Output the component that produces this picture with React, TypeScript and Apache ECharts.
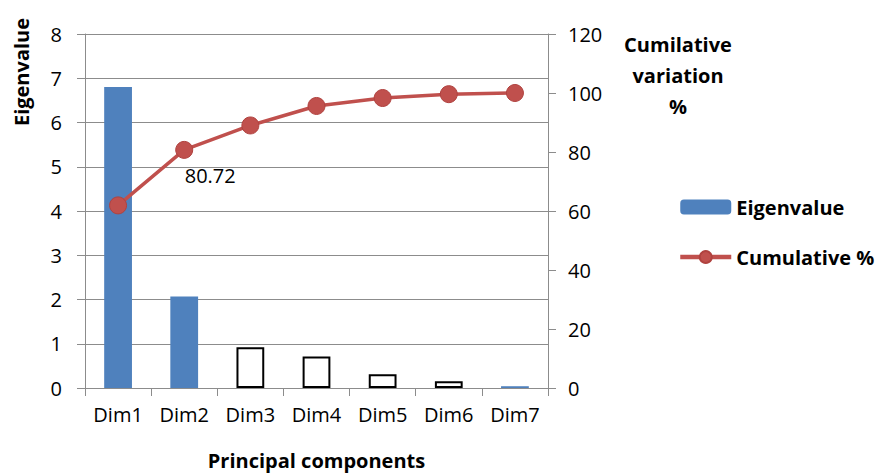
import React, { useEffect, useRef } from "react";
import * as echarts from "echarts";

const categories = ["Dim1", "Dim2", "Dim3", "Dim4", "Dim5", "Dim6", "Dim7"];
const eigenvalues = [6.8, 2.07, 0.92, 0.71, 0.31, 0.15, 0.04];
const filledBars = [true, true, false, false, false, false, true];
const cumulative = [61.9, 80.72, 89.0, 95.6, 98.3, 99.6, 100];
const labelledPoint = 1;
const rightTitleLines = ["Cumilative", "variation", "%"];

const FONT = "'Open Sans', Lato, sans-serif";
const BLUE = "#4F81BD";
const RED = "#C0504D";
const GRID = "#8C8C8C";
const FS = 20;
const BFS = 20;

export default function App() {
  const ref = useRef<HTMLDivElement>(null);
  useEffect(() => {
    if (!ref.current) return;
    const chart = echarts.init(ref.current, undefined, { renderer: "svg" });
    chart.setOption({
      animation: false,
      backgroundColor: "#ffffff",
      textStyle: { fontFamily: FONT },
      grid: { left: 85, right: 332, top: 34, bottom: 82, containLabel: false },
      legend: {
        orient: "vertical",
        left: 678,
        top: 197,
        padding: 0,
        itemGap: 30,
        itemWidth: 51,
        itemHeight: 15,
        lineStyle: { width: 4.5 },
        textStyle: { fontFamily: FONT, fontSize: BFS, fontWeight: "bold", color: "#000" },
        data: ["Eigenvalue", "Cumulative %"],
      },
      xAxis: {
        type: "category",
        data: categories,
        axisLine: { lineStyle: { color: GRID, width: 1 } },
        axisTick: { show: true, length: 8, lineStyle: { color: GRID } },
        axisLabel: { color: "#000", fontSize: FS, fontFamily: FONT, margin: 16 },
        name: "Principal components",
        nameLocation: "middle",
        nameGap: 62,
        nameTextStyle: { fontSize: BFS, fontWeight: "bold", color: "#000", fontFamily: FONT },
      },
      yAxis: [
        {
          type: "value",
          min: 0,
          max: 8,
          interval: 1,
          axisLine: { show: true, lineStyle: { color: GRID } },
          axisTick: { show: true, length: 8, lineStyle: { color: GRID } },
          splitLine: { show: true, lineStyle: { color: GRID, width: 1 } },
          axisLabel: { color: "#000", fontSize: FS, fontFamily: FONT, margin: 23 },
        },
        {
          type: "value",
          min: 0,
          max: 120,
          interval: 20,
          position: "right",
          axisLine: { show: true, lineStyle: { color: GRID } },
          axisTick: { show: true, length: 8, lineStyle: { color: GRID } },
          splitLine: { show: false },
          axisLabel: { color: "#000", fontSize: FS, fontFamily: FONT, margin: 20 },
        },
      ],
      graphic: [
        {
          type: "text",
          x: 21,
          y: 72,
          rotation: Math.PI / 2,
          style: {
            text: "Eigenvalue",
            align: "center",
            verticalAlign: "middle",
            fontSize: BFS,
            fontWeight: "bold",
            fill: "#000",
            fontFamily: FONT,
          },
        },
        ...rightTitleLines.map((t, i) => ({
          type: "text",
          x: 678,
          y: 44 + i * 31,
          style: {
            text: t,
            align: "center",
            verticalAlign: "middle",
            fontSize: BFS,
            fontWeight: "bold",
            fill: "#000",
            fontFamily: FONT,
          },
        })),
      ],
      series: [
        {
          name: "Eigenvalue",
          type: "bar",
          yAxisIndex: 0,
          barWidth: "42%",
          itemStyle: { color: BLUE },
          data: eigenvalues.map((v, i) =>
            filledBars[i]
              ? { value: v, itemStyle: { color: BLUE } }
              : { value: v, itemStyle: { color: "#ffffff", borderColor: "#000", borderWidth: 2 } }
          ),
        },
        {
          name: "Cumulative %",
          type: "line",
          yAxisIndex: 1,
          symbol: "circle",
          symbolSize: 17,
          lineStyle: { color: RED, width: 3.5 },
          itemStyle: { color: RED, borderColor: "#B0423F", borderWidth: 1 },
          data: cumulative.map((v, i) =>
            i === labelledPoint
              ? {
                  value: v,
                  label: {
                    show: true,
                    position: "bottom",
                    offset: [26, 2],
                    fontSize: FS,
                    color: "#000",
                    fontFamily: FONT,
                  },
                }
              : v
          ),
        },
      ],
    });
    return () => chart.dispose();
  }, []);
  return (
    <div
      ref={ref}
      style={{ position: "fixed", left: 0, top: 0, width: 880, height: 475 }}
    />
  );
}
